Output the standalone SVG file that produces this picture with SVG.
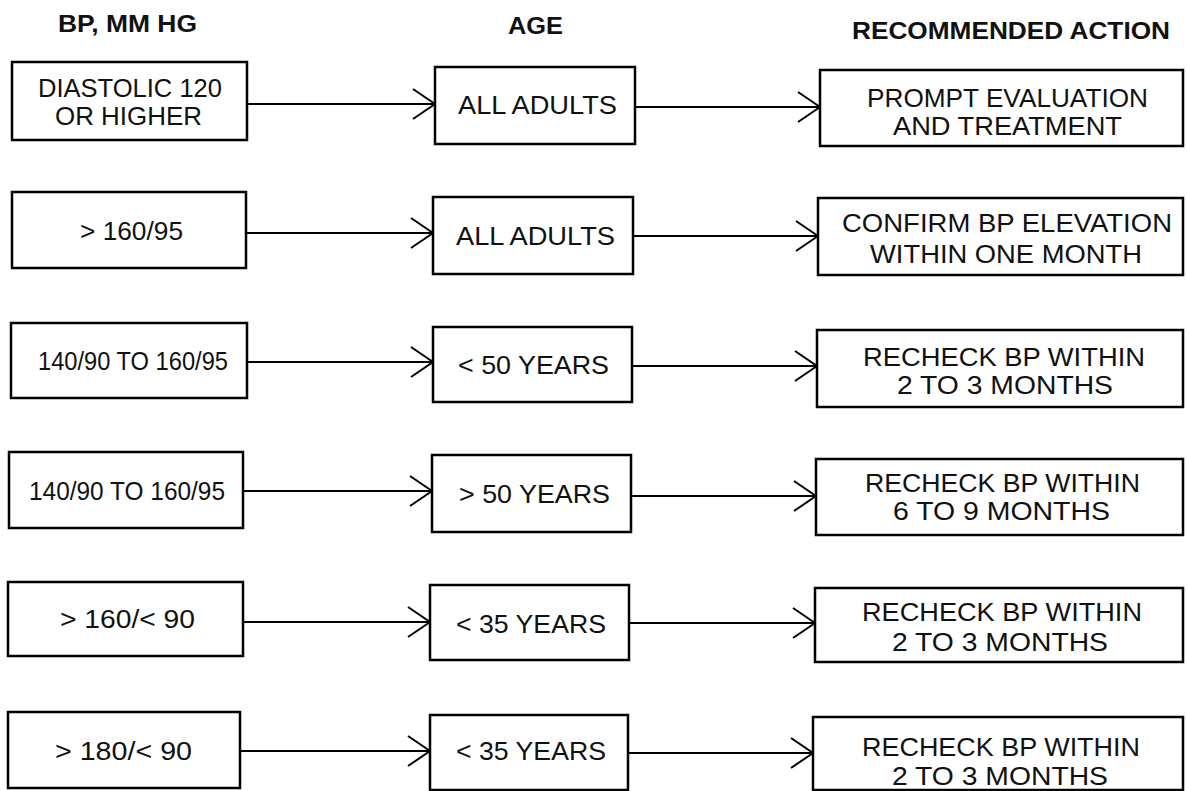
<svg xmlns="http://www.w3.org/2000/svg" width="1187" height="791" viewBox="0 0 1187 791">
<style>
.box{fill:#fff;stroke:#000;stroke-width:2.5}
.t{font-family:"Liberation Sans",Arial,sans-serif;font-size:25px;fill:#111}
.h{font-family:"Liberation Sans",Arial,sans-serif;font-size:23px;font-weight:bold;fill:#111}
.c{fill:none;stroke:#000;stroke-width:2;marker-end:url(#chev)}
</style>
<defs>
<marker id="chev" viewBox="0 0 25 32" refX="23" refY="16" markerWidth="25" markerHeight="32" markerUnits="userSpaceOnUse" orient="auto">
<path d="M1,1 L23,16 L1,31" fill="none" stroke="#000" stroke-width="2"/>
</marker>
</defs>
<rect width="1187" height="791" fill="#fff"/>
<g id="headers">
<text class="h" x="58" y="32" textLength="139" lengthAdjust="spacingAndGlyphs">BP, MM HG</text>
<text class="h" x="508" y="34" textLength="55" lengthAdjust="spacingAndGlyphs">AGE</text>
<text class="h" x="852" y="39" textLength="318" lengthAdjust="spacingAndGlyphs">RECOMMENDED ACTION</text>
</g>
<g id="connectors">
<path class="c" d="M247,104 H435"/>
<path class="c" d="M246,233 H433"/>
<path class="c" d="M246,362 H433"/>
<path class="c" d="M243,491 H432"/>
<path class="c" d="M243,622 H430"/>
<path class="c" d="M240,751 H430"/>
<path class="c" d="M635,107 H820"/>
<path class="c" d="M633,236 H818"/>
<path class="c" d="M632,366 H817"/>
<path class="c" d="M631,496 H816"/>
<path class="c" d="M629,623 H815"/>
<path class="c" d="M628,753 H813"/>
</g>
<g id="bp1"><rect class="box" x="12" y="62" width="235" height="78"/>
<text class="t" x="38" y="97" textLength="184" lengthAdjust="spacingAndGlyphs">DIASTOLIC 120</text>
<text class="t" x="55" y="125" textLength="147" lengthAdjust="spacingAndGlyphs">OR HIGHER</text></g>
<g id="age1"><rect class="box" x="435" y="67" width="200" height="77"/>
<text class="t" x="458" y="114" textLength="159" lengthAdjust="spacingAndGlyphs">ALL ADULTS</text></g>
<g id="act1"><rect class="box" x="820" y="70" width="363" height="76"/>
<text class="t" x="867" y="107" textLength="281" lengthAdjust="spacingAndGlyphs">PROMPT EVALUATION</text>
<text class="t" x="893" y="135" textLength="229" lengthAdjust="spacingAndGlyphs">AND TREATMENT</text></g>

<g id="bp2"><rect class="box" x="12" y="192" width="234" height="76"/>
<text class="t" x="80" y="240" textLength="103" lengthAdjust="spacingAndGlyphs">&gt; 160/95</text></g>
<g id="age2"><rect class="box" x="433" y="197" width="200" height="77"/>
<text class="t" x="456" y="245" textLength="159" lengthAdjust="spacingAndGlyphs">ALL ADULTS</text></g>
<g id="act2"><rect class="box" x="818" y="198" width="365" height="77"/>
<text class="t" x="842" y="232" textLength="330" lengthAdjust="spacingAndGlyphs">CONFIRM BP ELEVATION</text>
<text class="t" x="870" y="263" textLength="272" lengthAdjust="spacingAndGlyphs">WITHIN ONE MONTH</text></g>

<g id="bp3"><rect class="box" x="11" y="323" width="236" height="75"/>
<text class="t" x="38" y="370" textLength="190" lengthAdjust="spacingAndGlyphs">140/90 TO 160/95</text></g>
<g id="age3"><rect class="box" x="433" y="327" width="199" height="75"/>
<text class="t" x="458" y="374" textLength="151" lengthAdjust="spacingAndGlyphs">&lt; 50 YEARS</text></g>
<g id="act3"><rect class="box" x="817" y="330" width="366" height="77"/>
<text class="t" x="863" y="366" textLength="282" lengthAdjust="spacingAndGlyphs">RECHECK BP WITHIN</text>
<text class="t" x="897" y="394" textLength="216" lengthAdjust="spacingAndGlyphs">2 TO 3 MONTHS</text></g>

<g id="bp4"><rect class="box" x="9" y="452" width="234" height="76"/>
<text class="t" x="29" y="500" textLength="196" lengthAdjust="spacingAndGlyphs">140/90 TO 160/95</text></g>
<g id="age4"><rect class="box" x="432" y="455" width="199" height="77"/>
<text class="t" x="459" y="503" textLength="151" lengthAdjust="spacingAndGlyphs">&gt; 50 YEARS</text></g>
<g id="act4"><rect class="box" x="816" y="459" width="367" height="76"/>
<text class="t" x="865" y="492" textLength="275" lengthAdjust="spacingAndGlyphs">RECHECK BP WITHIN</text>
<text class="t" x="893" y="520" textLength="217" lengthAdjust="spacingAndGlyphs">6 TO 9 MONTHS</text></g>

<g id="bp5"><rect class="box" x="8" y="582" width="235" height="74"/>
<text class="t" x="60" y="628" textLength="135" lengthAdjust="spacingAndGlyphs">&gt; 160/&lt; 90</text></g>
<g id="age5"><rect class="box" x="430" y="585" width="199" height="75"/>
<text class="t" x="456" y="633" textLength="150" lengthAdjust="spacingAndGlyphs">&lt; 35 YEARS</text></g>
<g id="act5"><rect class="box" x="815" y="588" width="368" height="74"/>
<text class="t" x="862" y="621" textLength="280" lengthAdjust="spacingAndGlyphs">RECHECK BP WITHIN</text>
<text class="t" x="892" y="651" textLength="216" lengthAdjust="spacingAndGlyphs">2 TO 3 MONTHS</text></g>

<g id="bp6"><rect class="box" x="8" y="712" width="232" height="76"/>
<text class="t" x="55" y="760" textLength="137" lengthAdjust="spacingAndGlyphs">&gt; 180/&lt; 90</text></g>
<g id="age6"><rect class="box" x="430" y="715" width="198" height="75"/>
<text class="t" x="456" y="760" textLength="150" lengthAdjust="spacingAndGlyphs">&lt; 35 YEARS</text></g>
<g id="act6"><rect class="box" x="813" y="717" width="370" height="73"/>
<text class="t" x="862" y="756" textLength="278" lengthAdjust="spacingAndGlyphs">RECHECK BP WITHIN</text>
<text class="t" x="892" y="785" textLength="216" lengthAdjust="spacingAndGlyphs">2 TO 3 MONTHS</text></g>
</svg>
